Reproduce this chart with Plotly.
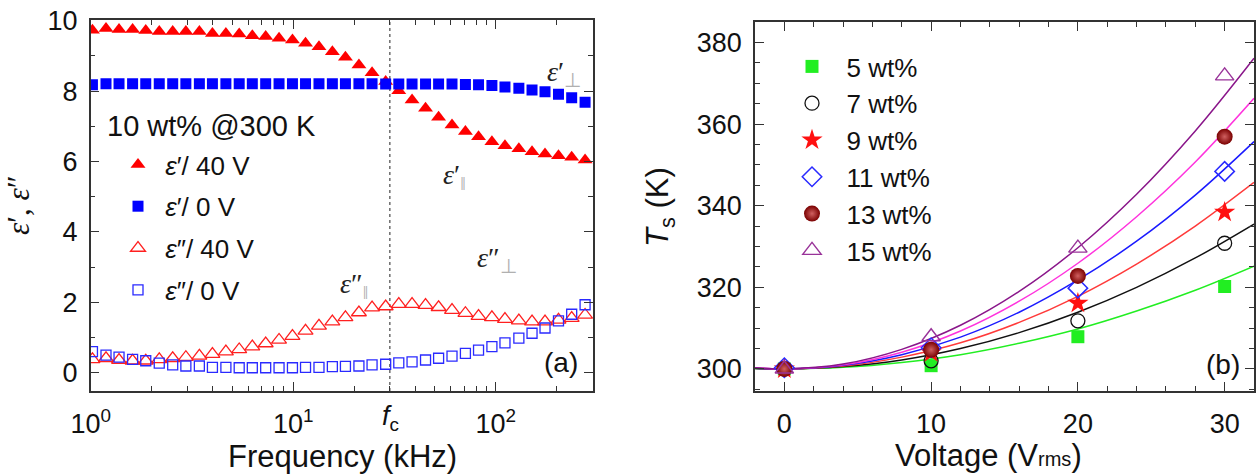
import plotly.graph_objects as go

# ---------------- data: panel (a) ----------------
freq_khz = [1.02, 1.19, 1.38, 1.61, 1.87, 2.18, 2.54, 2.95, 3.44, 3.99,
            4.65, 5.41, 6.28, 7.31, 8.51, 9.91, 11.5, 13.4, 15.6, 18.1,
            21.1, 24.5, 28.6, 33.2, 38.6, 45.0, 52.2, 60.8, 70.8, 82.2,
            95.7, 111, 130, 151, 175, 204, 237, 276]
eps1_40V = [9.73, 9.78, 9.75, 9.75, 9.72, 9.69, 9.69, 9.69, 9.69, 9.64,
            9.64, 9.62, 9.57, 9.55, 9.50, 9.45, 9.36, 9.26, 9.12, 8.96,
            8.74, 8.52, 8.27, 8.01, 7.75, 7.51, 7.26, 7.04, 6.85, 6.70,
            6.56, 6.45, 6.36, 6.28, 6.21, 6.16, 6.12, 6.04]
eps1_0V = [8.18, 8.21, 8.21, 8.21, 8.21, 8.21, 8.21, 8.21, 8.21, 8.21,
           8.21, 8.21, 8.21, 8.21, 8.21, 8.21, 8.21, 8.21, 8.21, 8.21,
           8.21, 8.21, 8.20, 8.20, 8.20, 8.20, 8.20, 8.20, 8.19, 8.18,
           8.16, 8.12, 8.08, 8.03, 7.98, 7.91, 7.81, 7.68]
eps2_40V = [0.38, 0.41, 0.36, 0.34, 0.34, 0.38, 0.41, 0.44, 0.48, 0.53,
            0.60, 0.66, 0.74, 0.83, 0.93, 1.04, 1.19, 1.33, 1.45, 1.57,
            1.71, 1.85, 1.88, 1.95, 1.95, 1.92, 1.86, 1.78, 1.69, 1.61,
            1.57, 1.52, 1.48, 1.45, 1.45, 1.50, 1.55, 1.64]
eps2_0V = [0.60, 0.50, 0.44, 0.38, 0.34, 0.27, 0.22, 0.19, 0.19, 0.15,
           0.15, 0.14, 0.14, 0.14, 0.14, 0.14, 0.15, 0.15, 0.17, 0.18,
           0.19, 0.22, 0.24, 0.28, 0.31, 0.36, 0.41, 0.47, 0.55, 0.64,
           0.74, 0.85, 0.98, 1.12, 1.27, 1.47, 1.66, 1.93]
f_c = 30.0
freq_ticks = [1, 10, 100]
freq_ticklabels = ["10<sup>0</sup>", "10<sup>1</sup>", "10<sup>2</sup>"]
freq_minor = [2, 3, 4, 5, 6, 7, 8, 9, 20, 30, 40, 50, 60, 70, 80, 90, 200, 300]
eps_range = [-0.52, 10.02]

# ---------------- data: panel (b) ----------------
voltage = [0, 10, 20, 30]
Ts_5 = [300.0, 300.8, 307.9, 320.2]
Ts_7 = [300.0, 302.0, 311.8, 330.8]
Ts_9 = [300.0, 304.0, 316.1, 338.4]
Ts_11 = [300.3, 305.2, 319.8, 348.4]
Ts_13 = [300.0, 304.7, 322.8, 356.9]
Ts_15 = [300.0, 307.9, 329.6, 371.8]

fit_voltage = [-2, 0, 4, 8, 12, 16, 20, 24, 28, 32]
fit_5 = [300.1, 300.0, 300.4, 301.6, 303.5, 306.3, 309.8, 314.2, 319.3, 325.2]
fit_7 = [300.1, 300.0, 300.6, 302.2, 305.0, 308.9, 313.9, 320.0, 327.2, 335.5]
fit_9 = [300.2, 300.0, 300.7, 302.9, 306.4, 311.4, 317.8, 325.7, 335.0, 345.7]
fit_11 = [300.2, 300.0, 300.9, 303.5, 307.8, 313.9, 321.8, 331.3, 342.6, 355.7]
fit_13 = [300.3, 300.0, 301.0, 304.1, 309.3, 316.6, 325.9, 337.3, 350.7, 366.3]
fit_15 = [300.3, 300.0, 301.2, 304.8, 310.7, 319.0, 329.7, 342.8, 358.3, 376.1]

# ---------------- helpers ----------------
W, H = 1260, 474
def px(x):
    return x / W
def py(y):
    return 1 - y / H

SANS = "Liberation Sans, Arial, sans-serif"
SERIF = "Liberation Serif, Times New Roman, serif"
EPS = "<i>ε</i>"

fig = go.Figure()

# panel (a) traces
fig.add_trace(go.Scatter(
    x=[f_c, f_c], y=eps_range, mode="lines", xaxis="x", yaxis="y",
    line=dict(color="#222", width=1, dash="dot"), showlegend=False, hoverinfo="skip"))
fig.add_trace(go.Scatter(
    x=freq_khz, y=eps1_40V, mode="markers", name=" " + EPS + "′/ 40 V",
    marker=dict(symbol="triangle-up", size=13, color="#ff0000"),
    legend="legend", legendgroup="a1"))
fig.add_trace(go.Scatter(
    x=freq_khz, y=eps1_0V, mode="markers", name=" " + EPS + "′/ 0 V",
    marker=dict(symbol="square", size=11, color="#0000ff"),
    legend="legend", legendgroup="a2"))
fig.add_trace(go.Scatter(
    x=freq_khz, y=eps2_40V, mode="markers", name=" " + EPS + "″/ 40 V",
    marker=dict(symbol="triangle-up-open", size=13, color="#ff2020", line=dict(width=1.3)),
    legend="legend", legendgroup="a3"))
fig.add_trace(go.Scatter(
    x=freq_khz, y=eps2_0V, mode="markers", name=" " + EPS + "″/ 0 V",
    marker=dict(symbol="square-open", size=10, color="#2a2aff", line=dict(width=1.3)),
    legend="legend", legendgroup="a4"))

# panel (b) fit lines
fit_colors = ["#22ee22", "#111111", "#ff3a3a", "#1a1aff", "#ff33dd", "#8a168a"]
for fy, c in zip([fit_5, fit_7, fit_9, fit_11, fit_13, fit_15], fit_colors):
    fig.add_trace(go.Scatter(
        x=fit_voltage, y=fy, mode="lines", xaxis="x2", yaxis="y2",
        line=dict(color=c, width=1.5, shape="spline"), showlegend=False, hoverinfo="skip"))

series_b = [
    ("5 wt%", Ts_5, dict(symbol="square", size=13, color="#22ee22")),
    ("7 wt%", Ts_7, dict(symbol="circle-open", size=14, color="#111111", line=dict(width=1.3))),
    ("9 wt%", Ts_9, dict(symbol="star", size=16, color="#ff1010")),
    ("11 wt%", Ts_11, dict(symbol="diamond-open", size=15, color="#2a2aff", line=dict(width=1.5))),
    ("13 wt%", Ts_13, dict(symbol="circle", size=16, color="#7a0000",
                           gradient=dict(type="radial", color="#d06060"))),
    ("15 wt%", Ts_15, dict(symbol="triangle-up-open", size=16, color="#993399", line=dict(width=1.4))),
]
for i, (nm, ys, mk) in enumerate(series_b):
    fig.add_trace(go.Scatter(
        x=voltage, y=ys, mode="markers", name="  " + nm, xaxis="x2", yaxis="y2",
        marker=mk, legend="legend2", legendgroup="b%d" % i))

axis_common = dict(
    showline=True, linecolor="#333", linewidth=1.5, mirror="ticks",
    ticks="inside", ticklen=9, tickwidth=1.3, tickcolor="#333",
    showgrid=False, zeroline=False, automargin=False,
    tickfont=dict(family=SANS, size=27, color="#111"),
)
minor_common = dict(ticks="inside", ticklen=5, tickcolor="#333", tickwidth=1.2)

fig.update_layout(
    width=W, height=H, margin=dict(l=0, r=0, t=0, b=0, autoexpand=False),
    paper_bgcolor="white", plot_bgcolor="white",
    font=dict(family=SANS, color="#111"),
    xaxis=dict(axis_common, domain=[px(90.7), px(593)], type="log", range=[0, 2.48],
               tickmode="array", tickvals=freq_ticks, ticktext=freq_ticklabels,
               minor=dict(minor_common, tickvals=freq_minor),
               ticklabelstandoff=8, anchor="y"),
    yaxis=dict(axis_common, domain=[py(391), py(20)], range=eps_range, dtick=2, tick0=0,
               minor=dict(minor_common, dtick=1),
               ticklabelstandoff=6, anchor="x"),
    xaxis2=dict(axis_common, domain=[px(755), px(1254)], range=[-2, 32], dtick=10, tick0=0,
                minor=dict(minor_common, dtick=2),
                ticklabelstandoff=8, anchor="y2"),
    yaxis2=dict(axis_common, domain=[py(391), py(22)], range=[294.6, 385], dtick=20, tick0=300,
                minor=dict(minor_common, dtick=5),
                ticklabelstandoff=6, anchor="x2"),
    legend=dict(x=px(118), y=py(141), xanchor="left", yanchor="top",
                bgcolor="rgba(0,0,0,0)", font=dict(family=SANS, size=26, color="#111"),
                tracegroupgap=5, traceorder="grouped"),
    legend2=dict(x=px(792), y=py(43), xanchor="left", yanchor="top",
                 bgcolor="rgba(0,0,0,0)", font=dict(family=SANS, size=26, color="#111"),
                 tracegroupgap=0, traceorder="grouped"),
    showlegend=True,
)

ann_font = dict(family=SERIF, size=28, color="#222")
title_font = dict(family=SANS, size=31, color="#111")
GRAY = "<span style='color:#b0b0b0'>%s</span>"
annotations = [
    # axis titles
    dict(text="Frequency (kHz)", x=px(342), y=py(456), xanchor="center", yanchor="middle", font=title_font),
    dict(text="Voltage (V<span style='font-size:20px'>rms</span>)", x=px(988), y=py(455),
         xanchor="center", yanchor="middle", font=title_font),
    dict(text="<i>ε</i>′, <i>ε</i>″", x=px(19), y=py(205), xanchor="center", yanchor="middle",
         textangle=-90, font=dict(family=SERIF, size=31, color="#111")),
    dict(text="<i>T</i><sub>s</sub> (K)", x=px(660), y=py(207), xanchor="center", yanchor="middle",
         textangle=-90, font=title_font),
    # in-plot labels
    dict(text="10 wt% @300 K", x=px(105), y=py(126), xanchor="left", yanchor="middle",
         font=dict(family=SANS, size=29, color="#111")),
    dict(text="<i>ε</i>′<sub>" + GRAY % "⊥" + "</sub>", x=px(545), y=py(74), xanchor="left", yanchor="middle", font=ann_font),
    dict(text="<i>ε</i>′<sub>" + GRAY % "‖" + "</sub>", x=px(441), y=py(176), xanchor="left", yanchor="middle", font=ann_font),
    dict(text="<i>ε</i>″<sub>" + GRAY % "⊥" + "</sub>", x=px(475), y=py(259), xanchor="left", yanchor="middle", font=ann_font),
    dict(text="<i>ε</i>″<sub>" + GRAY % "‖" + "</sub>", x=px(338), y=py(285), xanchor="left", yanchor="middle", font=ann_font),
    dict(text="(a)", x=px(580), y=py(362), xanchor="right", yanchor="middle",
         font=dict(family=SANS, size=28, color="#111")),
    dict(text="(b)", x=px(1242), y=py(364), xanchor="right", yanchor="middle",
         font=dict(family=SANS, size=28, color="#111")),
    dict(text="<i>f</i><sub>c</sub>", x=px(390), y=py(418), xanchor="center", yanchor="middle",
         font=dict(family=SANS, size=27, color="#111")),
]
for a in annotations:
    a.update(xref="paper", yref="paper", showarrow=False)
fig.update_layout(annotations=annotations)

fig.write_html("out.html")
